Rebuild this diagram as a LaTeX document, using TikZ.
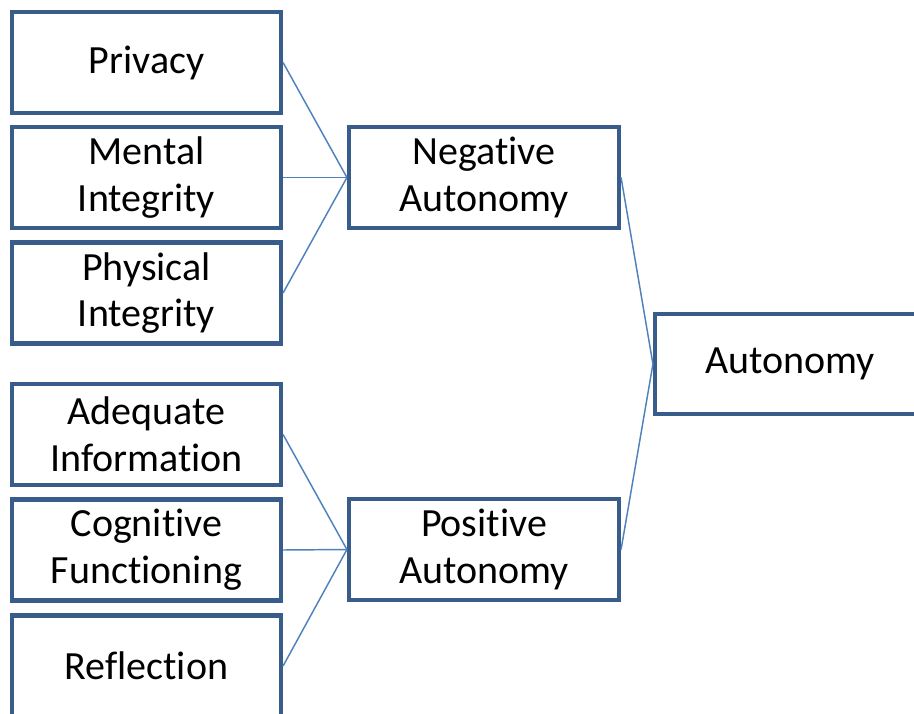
\documentclass[tikz,border=0pt]{standalone}
\usepackage{fontspec}
\setmainfont[RawFeature=-liga]{Carlito}
\definecolor{boxblue}{RGB}{56,93,138}
\definecolor{linkblue}{RGB}{79,129,189}
\begin{document}
\begin{tikzpicture}[x=0.75pt,y=-0.75pt,
  box/.style={draw=boxblue,line width=3.1pt,rectangle,inner sep=0pt,align=center,
    font=\fontsize{30}{35}\selectfont,text=black},
  leftbox/.style={box,minimum width=201.75pt,minimum height=75.75pt},
  midbox/.style={box,minimum width=202.5pt,minimum height=76pt},
  link/.style={draw=linkblue,line width=1.1pt}]
\useasboundingbox (0,0) rectangle (914,714);
\clip (0,0) rectangle (914,714);
\node[leftbox] (priv) at (146.5,62.5) {Privacy};
\node[leftbox] (ment) at (146.5,177.5) {Mental\\Integrity};
\node[leftbox] (phys) at (146.5,293) {Physical\\Integrity};
\node[leftbox] (adeq) at (146.5,434.5) {Adequate\\Information};
\node[leftbox] (cogn) at (146.5,550) {Cognitive\\Functioning};
\node[leftbox] (refl) at (146.5,666) {Reflection};
\node[midbox] (neg) at (484,177.5) {Negative\\Autonomy};
\node[midbox] (pos) at (484,549.5) {Positive\\Autonomy};
\node[box,minimum width=202.5pt,minimum height=75pt] (aut) at (790,364) {Autonomy};
\draw[link] (priv.east) -- (neg.west);
\draw[link] (ment.east) -- (neg.west);
\draw[link] (phys.east) -- (neg.west);
\draw[link] (adeq.east) -- (pos.west);
\draw[link] (cogn.east) -- (pos.west);
\draw[link] (refl.east) -- (pos.west);
\draw[link] (neg.east) -- (aut.west);
\draw[link] (pos.east) -- (aut.west);
\end{tikzpicture}
\end{document}
